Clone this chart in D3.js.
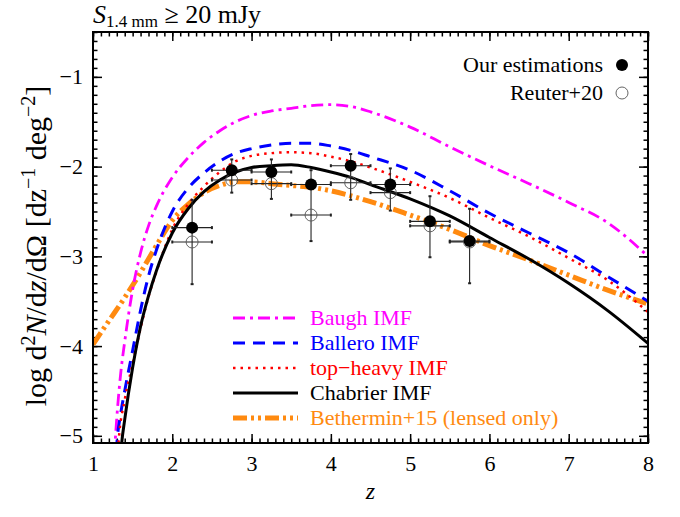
<!DOCTYPE html>
<html>
<head>
<meta charset="utf-8">
<script src="https://cdn.jsdelivr.net/npm/d3@7"></script>
<style>
  body { margin: 0; background: #fff; }
  svg text { font-family: "Liberation Serif", "Times New Roman", serif; }
</style>
</head>
<body>
<div id="chart"></div>
<script>
// redshift bins of the number counts
const zBins = [2.25, 2.75, 3.25, 3.75, 4.25, 4.75, 5.25, 5.75];
const zLo = [2.0, 2.5, 3.0, 3.5, 4.0, 4.5, 5.0, 5.5];
const zHi = [2.5, 3.0, 3.5, 4.0, 4.5, 5.0, 5.5, 6.0];
const ourVals = [-2.68, -2.04, -2.06, -2.20, -1.99, -2.20, -2.61, -2.83];
const reuterVals = [-2.84, -2.15, -2.19, -2.54, -2.18, -2.29, -2.66, -2.84];
const errTop = [-2.37, -1.92, -1.92, -2.04, -1.86, -2.02, -2.33, -2.47];
const errBottom = [-3.31, -2.29, -2.36, -2.83, -2.37, -2.49, -3.01, -3.30];

// model curves
const baughZ = [1.25, 1.3, 1.35, 1.4, 1.5, 1.6, 1.7, 1.8, 2.0, 2.2, 2.4, 2.6, 2.8, 3.0, 3.25, 3.5, 3.75, 4.0, 4.25, 4.5, 5.0, 5.5, 6.0, 6.5, 7.0, 7.5, 8.0];
const baughVal = [-5.5, -4.8, -4.3, -3.95, -3.37, -2.96, -2.66, -2.44, -2.12, -1.90, -1.73, -1.60, -1.50, -1.43, -1.38, -1.35, -1.32, -1.31, -1.33, -1.39, -1.56, -1.78, -1.99, -2.19, -2.40, -2.63, -3.0];

const balleroZ = [1.28, 1.3, 1.35, 1.4, 1.5, 1.6, 1.7, 1.8, 2.0, 2.2, 2.4, 2.6, 2.8, 3.0, 3.25, 3.5, 3.75, 4.0, 4.25, 4.5, 5.0, 5.5, 6.0, 6.5, 7.0, 7.5, 8.0];
const balleroVal = [-5.4, -5.1, -4.75, -4.5, -4.05, -3.6, -3.22, -2.93, -2.50, -2.24, -2.07, -1.94, -1.85, -1.80, -1.76, -1.74, -1.74, -1.77, -1.82, -1.89, -2.04, -2.27, -2.52, -2.74, -2.96, -3.23, -3.50];

const topHeavyZ = [1.3, 1.32, 1.4, 1.5, 1.6, 1.7, 1.8, 2.0, 2.2, 2.4, 2.6, 2.8, 3.0, 3.25, 3.5, 3.75, 4.0, 4.25, 4.5, 5.0, 5.5, 6.0, 6.5, 7.0, 7.5, 8.0];
const topHeavyVal = [-5.5, -5.1, -4.6, -4.2, -3.8, -3.45, -3.17, -2.70, -2.42, -2.22, -2.06, -1.94, -1.88, -1.85, -1.84, -1.85, -1.89, -1.94, -2.01, -2.17, -2.35, -2.57, -2.78, -3.02, -3.27, -3.62];

const chabrierZ = [1.33, 1.36, 1.4, 1.5, 1.6, 1.7, 1.8, 2.0, 2.2, 2.4, 2.6, 2.8, 3.0, 3.25, 3.5, 3.75, 4.0, 4.25, 4.5, 5.0, 5.5, 6.0, 6.5, 7.0, 7.5, 8.0];
const chabrierVal = [-5.5, -5.1, -4.82, -4.24, -3.78, -3.44, -3.16, -2.74, -2.47, -2.28, -2.15, -2.06, -2.01, -1.99, -1.98, -2.01, -2.06, -2.12, -2.20, -2.36, -2.55, -2.79, -3.03, -3.30, -3.61, -3.97];

const betherminZ = [1.0, 1.2, 1.4, 1.6, 1.8, 2.0, 2.2, 2.4, 2.6, 2.8, 3.0, 3.25, 3.5, 3.75, 4.0, 4.5, 5.0, 5.5, 6.0, 6.5, 7.0, 7.5, 8.0];
const betherminVal = [-3.98, -3.72, -3.46, -3.18, -2.88, -2.60, -2.42, -2.29, -2.21, -2.17, -2.17, -2.19, -2.21, -2.23, -2.27, -2.39, -2.54, -2.70, -2.88, -3.04, -3.21, -3.38, -3.53];

const modelNames = ["Baugh IMF", "Ballero IMF", "top\u2212heavy IMF", "Chabrier IMF", "Bethermin+15 (lensed only)"];
const xTicks = [1, 2, 3, 4, 5, 6, 7, 8];
const yTicks = [-5, -4, -3, -2, -1];

let width = 680, height = 517;
let margin = {top: 32, right: 32, bottom: 74, left: 93};
let plotW = width - margin.left - margin.right;
let plotH = height - margin.top - margin.bottom;

let svg = d3.select("#chart").append("svg")
    .attr("width", width)
    .attr("height", height);

let g = svg.append("g")
    .attr("transform", `translate(${margin.left},${margin.top})`);

let xScale = d3.scaleLinear().domain([1, 8]).range([0, plotW]);
let yScale = d3.scaleLinear().domain([-5.08, -0.5]).range([plotH, 0]);

let xMinor = d3.range(10, 81).map(d => d / 10);
let yMinor = d3.range(-50, -4).map(d => d / 10);

function styleAxis(sel) {
    sel.select(".domain").remove();
    sel.selectAll("line").attr("stroke", "black").attr("stroke-width", 1.5);
    sel.selectAll("text").attr("font-family", "Liberation Serif").attr("font-size", 22).attr("fill", "black");
}

// major + minor ticks on all four sides, pointing inward
g.append("g").attr("transform", `translate(0,${plotH})`)
    .call(d3.axisBottom(xScale).tickValues(xTicks).tickSize(-9).tickSizeOuter(0).tickPadding(12).tickFormat(d3.format("d")))
    .call(styleAxis);
g.append("g").attr("transform", `translate(0,${plotH})`)
    .call(d3.axisBottom(xScale).tickValues(xMinor).tickSize(-4.5).tickSizeOuter(0).tickFormat(""))
    .call(styleAxis);
g.append("g")
    .call(d3.axisTop(xScale).tickValues(xTicks).tickSize(-9).tickSizeOuter(0).tickFormat(""))
    .call(styleAxis);
g.append("g")
    .call(d3.axisTop(xScale).tickValues(xMinor).tickSize(-4.5).tickSizeOuter(0).tickFormat(""))
    .call(styleAxis);

g.append("g")
    .call(d3.axisLeft(yScale).tickValues(yTicks).tickSize(-9).tickSizeOuter(0).tickPadding(10).tickFormat(d3.format("d")))
    .call(styleAxis);
g.append("g")
    .call(d3.axisLeft(yScale).tickValues(yMinor).tickSize(-4.5).tickSizeOuter(0).tickFormat(""))
    .call(styleAxis);
g.append("g").attr("transform", `translate(${plotW},0)`)
    .call(d3.axisRight(yScale).tickValues(yTicks).tickSize(-9).tickSizeOuter(0).tickFormat(""))
    .call(styleAxis);
g.append("g").attr("transform", `translate(${plotW},0)`)
    .call(d3.axisRight(yScale).tickValues(yMinor).tickSize(-4.5).tickSizeOuter(0).tickFormat(""))
    .call(styleAxis);

// clip for the curves
svg.append("defs").append("clipPath").attr("id", "plot-clip")
    .append("rect").attr("width", plotW).attr("height", plotH);

let curveLayer = g.append("g").attr("clip-path", "url(#plot-clip)");

let line = d3.line()
    .x(d => xScale(d[0]))
    .y(d => yScale(d[1]))
    .curve(d3.curveMonotoneX);

let models = [
    {name: modelNames[0], z: baughZ, v: baughVal, color: "#ff00ff", width: 2.8, dash: "12,5,3,5"},
    {name: modelNames[1], z: balleroZ, v: balleroVal, color: "#0000ff", width: 3, dash: "12,8"},
    {name: modelNames[2], z: topHeavyZ, v: topHeavyVal, color: "#ff0000", width: 2.5, dash: "2.5,5"},
    {name: modelNames[3], z: chabrierZ, v: chabrierVal, color: "#000000", width: 3, dash: null},
    {name: modelNames[4], z: betherminZ, v: betherminVal, color: "#ff8a10", width: 5, dash: "14,4,3,4,3,4"}
];

// orange drawn first so the others sit on top of it where they cross
[4, 0, 1, 2, 3].forEach(i => {
    let m = models[i];
    curveLayer.append("path")
        .datum(m.z.map((z, k) => [z, m.v[k]]))
        .attr("fill", "none")
        .attr("stroke", m.color)
        .attr("stroke-width", m.width)
        .attr("stroke-dasharray", m.dash)
        .attr("d", line);
});

// error bars
let bins = zBins.map((z, i) => ({
    z: z, lo: zLo[i], hi: zHi[i], ours: ourVals[i], reuter: reuterVals[i],
    top: errTop[i], bottom: errBottom[i]
}));

let errs = g.append("g").attr("stroke", "#222").attr("stroke-width", 1.1);
bins.forEach(d => {
    let cx = xScale(d.z);
    errs.append("line").attr("x1", cx).attr("x2", cx)
        .attr("y1", yScale(d.top)).attr("y2", yScale(d.bottom));
    [d.top, d.bottom].forEach(v => {
        errs.append("line").attr("x1", cx - 1.5).attr("x2", cx + 1.5)
            .attr("y1", yScale(v)).attr("y2", yScale(v)).attr("stroke-width", 2);
    });
    [d.ours, d.reuter].forEach(v => {
        let cy = yScale(v);
        errs.append("line").attr("x1", xScale(d.lo)).attr("x2", xScale(d.hi))
            .attr("y1", cy).attr("y2", cy);
        [d.lo, d.hi].forEach(zz => {
            errs.append("line").attr("x1", xScale(zz)).attr("x2", xScale(zz))
                .attr("y1", cy - 1.5).attr("y2", cy + 1.5).attr("stroke-width", 2);
        });
    });
});

g.selectAll(".reuter")
    .data(bins)
    .enter()
    .append("circle")
    .attr("class", "reuter")
    .attr("cx", d => xScale(d.z))
    .attr("cy", d => yScale(d.reuter))
    .attr("r", 6)
    .attr("fill", "none")
    .attr("stroke", "#555")
    .attr("stroke-width", 0.9);

g.selectAll(".ours")
    .data(bins)
    .enter()
    .append("circle")
    .attr("class", "ours")
    .attr("cx", d => xScale(d.z))
    .attr("cy", d => yScale(d.ours))
    .attr("r", 6)
    .attr("fill", "black");

// frame
g.append("rect")
    .attr("width", plotW)
    .attr("height", plotH)
    .attr("fill", "none")
    .attr("stroke", "black")
    .attr("stroke-width", 2);

// top-right legend for the points
let ptLegend = svg.append("g");
ptLegend.append("text").attr("x", 603).attr("y", 72).attr("text-anchor", "end")
    .attr("font-size", 22).text("Our estimations");
ptLegend.append("circle").attr("cx", 622).attr("cy", 65).attr("r", 6).attr("fill", "black");
ptLegend.append("text").attr("x", 603).attr("y", 100).attr("text-anchor", "end")
    .attr("font-size", 22).text("Reuter+20");
ptLegend.append("circle").attr("cx", 622).attr("cy", 93).attr("r", 6)
    .attr("fill", "none").attr("stroke", "#555").attr("stroke-width", 0.9);

// model legend
let legend = svg.append("g").attr("transform", "translate(233,318)");
let legendItems = legend.selectAll(".legend-item")
    .data(models)
    .enter()
    .append("g")
    .attr("class", "legend-item")
    .attr("transform", (d, i) => `translate(0, ${i * 25})`);

legendItems.append("line")
    .attr("x1", 0).attr("x2", 65)
    .attr("stroke", d => d.color)
    .attr("stroke-width", d => d.width)
    .attr("stroke-dasharray", d => d.dash);

legendItems.append("text")
    .attr("x", 77)
    .attr("y", 7)
    .attr("font-size", 22)
    .attr("fill", d => d.color)
    .text(d => d.name);

// title
let title = svg.append("text").attr("x", 93).attr("y", 23).attr("font-size", 26);
title.append("tspan").attr("font-style", "italic").text("S");
title.append("tspan").attr("font-size", 17).attr("dy", 4).text("1.4 mm");
title.append("tspan").attr("dy", -4).text(" \u2265 20 mJy");

// x axis label
svg.append("text")
    .attr("x", margin.left + plotW / 2)
    .attr("y", 499)
    .attr("text-anchor", "middle")
    .attr("font-size", 24)
    .attr("font-style", "italic")
    .text("z");

// y axis label
let yLab = svg.append("text")
    .attr("text-anchor", "middle")
    .attr("transform", `translate(46,246) rotate(-90)`)
    .attr("font-size", 30);
yLab.append("tspan").text("log d");
yLab.append("tspan").attr("font-size", 20).attr("dy", -11).text("2");
yLab.append("tspan").attr("dy", 11).attr("font-style", "italic").text("N");
yLab.append("tspan").text("/d");
yLab.append("tspan").attr("font-style", "italic").text("z");
yLab.append("tspan").text("/d\u03a9 [dz");
yLab.append("tspan").attr("font-size", 20).attr("dy", -11).text("\u22121");
yLab.append("tspan").attr("dy", 11).text(" deg");
yLab.append("tspan").attr("font-size", 20).attr("dy", -11).text("\u22122");
yLab.append("tspan").attr("dy", 11).text("]");
</script>
</body>
</html>
